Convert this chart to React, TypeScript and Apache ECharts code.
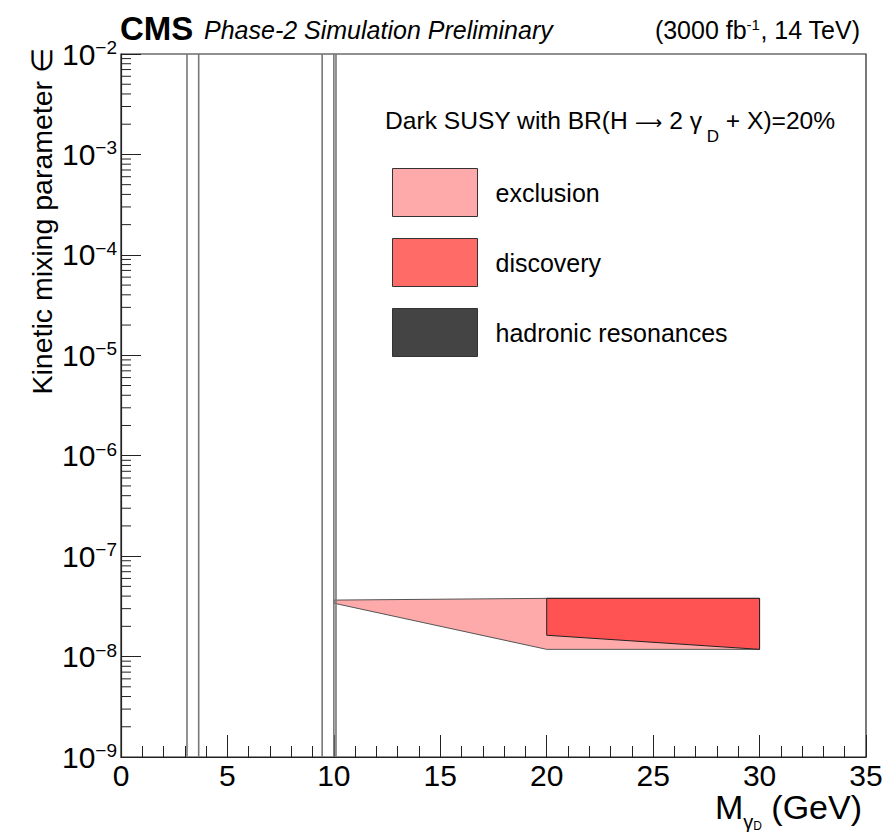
import React, { useEffect, useRef } from 'react';
import * as echarts from 'echarts';

const FF = '"Liberation Sans", Arial, Helvetica, sans-serif';

// axis ranges
const X_MIN = 0;
const X_MAX = 35;
const X_STEP = 5;
const Y_MIN = 1e-9;
const Y_MAX = 1e-2;

// log axis decades and minor tick multipliers
const yDecades = [-9, -8, -7, -6, -5, -4, -3];
const minorMultipliers = [2, 3, 4, 5, 6, 7, 8, 9];

// hadronic resonance masses (GeV)
const resonanceMasses = [3.1, 3.65, 9.45, 10.0, 10.1];

// exclusion region (polygon vertices)
const exclusionX = [10, 20, 30, 30, 20, 10];
const exclusionY = [3.65e-8, 3.8e-8, 3.8e-8, 1.18e-8, 1.18e-8, 3.4e-8];

// discovery region (polygon vertices)
const discoveryX = [20, 30, 30, 20];
const discoveryY = [3.8e-8, 3.8e-8, 1.18e-8, 1.63e-8];

const legendNames = ['exclusion', 'discovery', 'hadronic resonances'];
const legendColors = ['#ffaaaa', '#ff6b66', '#444444'];

export default function App() {
  const ref = useRef<HTMLDivElement>(null);

  useEffect(() => {
    if (!ref.current) return;
    const chart = echarts.init(ref.current, null, { renderer: 'svg' });

    const minorTickValues: number[] = [];
    yDecades.forEach((d) =>
      minorMultipliers.forEach((k) => minorTickValues.push(k * Math.pow(10, d)))
    );

    const option: any = {
      animation: false,
      backgroundColor: '#ffffff',
      grid: {
        left: 121,
        top: 54,
        right: 20,
        bottom: 75,
        show: true,
        borderColor: '#222',
        borderWidth: 1.2,
        backgroundColor: 'transparent',
      },
      xAxis: {
        type: 'value',
        min: X_MIN,
        max: X_MAX,
        interval: X_STEP,
        axisLine: { show: true, onZero: false, lineStyle: { color: '#222', width: 1.2 } },
        axisTick: { show: true, inside: true, length: 22, lineStyle: { color: '#222', width: 1 } },
        minorTick: { show: true, splitNumber: 5, length: 11, lineStyle: { color: '#222', width: 1 } },
        splitLine: { show: false },
        minorSplitLine: { show: false },
        axisLabel: { fontSize: 30, fontFamily: FF, color: '#000', margin: 3 },
      },
      yAxis: {
        type: 'log',
        logBase: 10,
        min: Y_MIN,
        max: Y_MAX,
        splitNumber: 7,
        axisLine: { show: true, lineStyle: { color: '#222', width: 1.2 } },
        axisTick: { show: true, inside: true, length: 20, lineStyle: { color: '#222', width: 1 } },
        splitLine: { show: false },
        axisLabel: {
          margin: 4,
          formatter: (v: number) => {
            const n = Math.round(Math.log10(v));
            return `{b|10}{s|\u2212${Math.abs(n)}}`;
          },
          rich: {
            b: { fontSize: 30, fontFamily: FF, color: '#000' },
            s: { fontSize: 19, fontFamily: FF, color: '#000', padding: [0, 0, 13, 0] },
          },
        },
      },
      legend: {
        orient: 'vertical',
        left: 392,
        top: 168,
        padding: 0,
        itemWidth: 85,
        itemHeight: 48,
        itemGap: 21,
        icon: 'rect',
        selectedMode: false,
        textStyle: { fontSize: 25, fontFamily: FF, color: '#000', padding: [0, 0, 0, 13] },
        data: legendNames.map((n, i) => ({
          name: n,
          itemStyle: { color: legendColors[i], borderColor: '#333', borderWidth: 1 },
        })),
      },
      series: [
        {
          type: 'custom',
          name: 'exclusion',
          coordinateSystem: 'cartesian2d',
          silent: true,
          z: 2,
          data: exclusionX.map((x, i) => [x, exclusionY[i]]),
          encode: { x: 0, y: 1 },
          itemStyle: { color: '#ffaaaa' },
          renderItem: (params: any, api: any) => {
            if (params.dataIndex !== 0) return null;
            const pts = exclusionX.map((x, i) => api.coord([x, exclusionY[i]]));
            return {
              type: 'polygon',
              shape: { points: pts },
              style: { fill: '#ffaaaa', stroke: '#555', lineWidth: 1 },
            };
          },
        },
        {
          type: 'custom',
          name: 'discovery',
          coordinateSystem: 'cartesian2d',
          silent: true,
          z: 3,
          data: discoveryX.map((x, i) => [x, discoveryY[i]]),
          encode: { x: 0, y: 1 },
          itemStyle: { color: '#ff6b66' },
          renderItem: (params: any, api: any) => {
            if (params.dataIndex !== 0) return null;
            const pts = discoveryX.map((x, i) => api.coord([x, discoveryY[i]]));
            return {
              type: 'polygon',
              shape: { points: pts },
              style: { fill: '#ff5252', stroke: '#222', lineWidth: 1 },
            };
          },
        },
        {
          type: 'custom',
          name: 'hadronic resonances',
          coordinateSystem: 'cartesian2d',
          silent: true,
          z: 4,
          data: resonanceMasses.map((m) => [m, Y_MIN]),
          encode: { x: 0, y: 1 },
          itemStyle: { color: '#444444' },
          renderItem: (params: any, api: any) => {
            const m = api.value(0);
            const a = api.coord([m, Y_MIN]);
            const b = api.coord([m, Y_MAX]);
            return {
              type: 'line',
              shape: { x1: a[0], y1: a[1], x2: b[0], y2: b[1] },
              style: { stroke: '#777', lineWidth: 1.6 },
            };
          },
        },
        {
          type: 'custom',
          name: 'yMinorTicks',
          coordinateSystem: 'cartesian2d',
          silent: true,
          z: 5,
          data: minorTickValues.map((v) => [X_MIN, v]),
          encode: { x: 0, y: 1 },
          renderItem: (params: any, api: any) => {
            const p = api.coord([X_MIN, api.value(1)]);
            return {
              type: 'line',
              shape: { x1: p[0], y1: p[1], x2: p[0] + 10, y2: p[1] },
              style: { stroke: '#222', lineWidth: 1 },
            };
          },
        },
      ],
      graphic: [
        {
          type: 'text',
          x: 120,
          y: 28,
          style: { text: 'CMS', font: `bold 33px ${FF}`, fill: '#000', verticalAlign: 'middle' },
        },
        {
          type: 'text',
          x: 204,
          y: 30,
          style: {
            text: 'Phase-2 Simulation Preliminary',
            font: `italic 25px ${FF}`,
            fill: '#000',
            verticalAlign: 'middle',
          },
        },
        {
          type: 'text',
          x: 860,
          y: 30,
          style: {
            text: '{a|(3000 fb}{s|-1}{a|, 14 TeV)}',
            align: 'right',
            verticalAlign: 'middle',
            rich: {
              a: { fontSize: 25, fontFamily: FF, color: '#000' },
              s: { fontSize: 15, fontFamily: FF, color: '#000', padding: [0, 0, 11, 0] },
            },
          },
        },
        {
          type: 'text',
          x: 385,
          y: 145,
          style: {
            text: '{a|Dark SUSY with BR(H }{r|\u27f6}{a| 2 \u03b3}{d| D}{a| + X)=20%}',
            verticalAlign: 'bottom',
            rich: {
              a: { fontSize: 24.6, fontFamily: FF, color: '#000', verticalAlign: 'bottom', padding: [0, 0, 12, 0] },
              r: { fontSize: 19, fontFamily: '"DejaVu Sans", sans-serif', color: '#000', verticalAlign: 'bottom', padding: [0, 0, 14, 0] },
              d: { fontSize: 17, fontFamily: FF, color: '#000', verticalAlign: 'bottom' },
            },
          },
        },
        {
          type: 'text',
          x: 42,
          y: 48,
          rotation: Math.PI / 2,
          style: {
            text: 'Kinetic mixing parameter \u2208',
            font: `28.5px ${FF}`,
            fill: '#000',
            align: 'right',
            verticalAlign: 'middle',
          },
        },
        {
          type: 'text',
          x: 862,
          y: 850,
          style: {
            text: '{m|M}{g|\u03b3}{d|D}{m| (GeV)}',
            align: 'right',
            verticalAlign: 'bottom',
            rich: {
              m: { fontSize: 34, fontFamily: FF, color: '#000', verticalAlign: 'bottom', padding: [0, 0, 26, 0] },
              g: { fontSize: 20, fontFamily: FF, color: '#000', verticalAlign: 'bottom', padding: [0, 0, 18, 0] },
              d: { fontSize: 12, fontFamily: FF, color: '#000', verticalAlign: 'bottom', padding: [0, 0, 18, 0] },
            },
          },
        },
      ],
    };

    chart.setOption(option);
    return () => chart.dispose();
  }, []);

  return (
    <div
      ref={ref}
      style={{ position: 'fixed', left: 0, top: 0, width: 886, height: 832, background: '#fff' }}
    />
  );
}
